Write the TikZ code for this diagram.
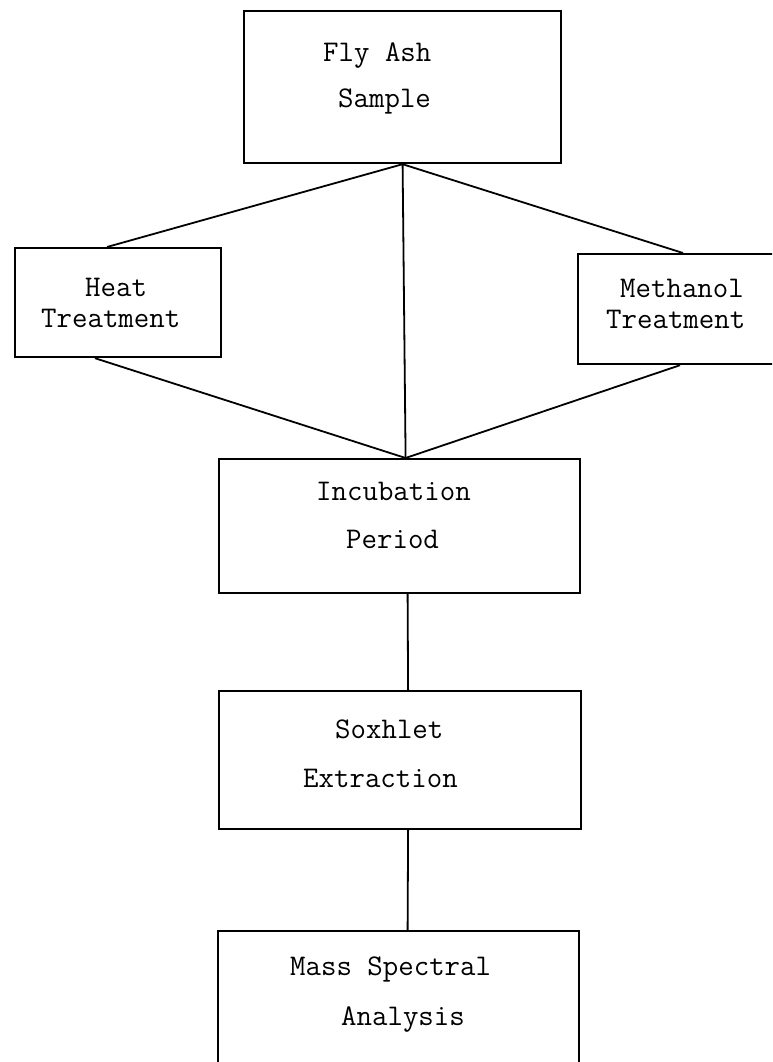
\documentclass[tikz,border=0pt]{standalone}
\usetikzlibrary{calc}
\begin{document}
\begin{tikzpicture}[x=1pt,y=-1pt,
  box/.style={draw, line width=2.2pt, inner sep=0pt, anchor=north west},
  lbl/.style={anchor=base west, inner sep=0pt, font=\fontsize{30}{32}\selectfont\ttfamily},
  link/.style={line width=1.8pt}]
\useasboundingbox (0,0) rectangle (772,1062);
\clip (0,0) rectangle (772,1062);
% boxes
\node[box, minimum width=317pt, minimum height=152pt] (fly) at (243,10) {};
\node[box, minimum width=206pt, minimum height=109pt] (heat) at (14,247) {};
\node[box, minimum width=213pt, minimum height=110pt] (meth) at (577,253) {};
\node[box, minimum width=361pt, minimum height=134pt] (incub) at (218,458) {};
\node[box, minimum width=362pt, minimum height=138pt] (sox) at (218,690) {};
\node[box, minimum width=361pt, minimum height=160pt] (mass) at (217,930) {};
% texts
\node[lbl] (flyA) at (323,62) {Fly Ash};
\node[lbl] (flyB) at (338,108) {Sample};
\node[lbl] (heatA) at (85,296) {Heat};
\node[lbl] (heatB) at (41,327) {Treatment};
\node[lbl] (methA) at (620,297) {Methanol};
\node[lbl] (methB) at (606,328) {Treatment};
\node[lbl] (incA) at (316,500) {Incubation};
\node[lbl] (incB) at (346,548) {Period};
\node[lbl] (soxA) at (335,738) {Soxhlet};
\node[lbl] (soxB) at (303,787) {Extraction};
\node[lbl] (massA) at (290,975) {Mass Spectral};
\node[lbl] (massB) at (341,1025) {Analysis};
% connector points
\coordinate (apex) at ($(incub.north)+(6,0)$);
\coordinate (heatT) at ($(heat.north west)+(93,0)$);
\coordinate (heatB) at ($(heat.south west)+(81,0)$);
\coordinate (methT) at ($(meth.north west)+(106,0)$);
\coordinate (methB) at ($(meth.south west)+(103,0)$);
\coordinate (incS) at ($(incub.south)+(8,0)$);
\coordinate (soxN) at ($(sox.north)+(8,0)$);
\coordinate (soxS) at ($(sox.south)+(8,0)$);
\coordinate (massN) at ($(mass.north)+(9,0)$);
% connectors
\draw[link] (fly.south) -- (heatT);
\draw[link] (fly.south) -- (methT);
\draw[link] (fly.south) -- (apex);
\draw[link] (heatB) -- (apex);
\draw[link] (methB) -- (apex);
\draw[link] (incS) -- (soxN);
\draw[link] (soxS) -- (massN);
\end{tikzpicture}
\end{document}
